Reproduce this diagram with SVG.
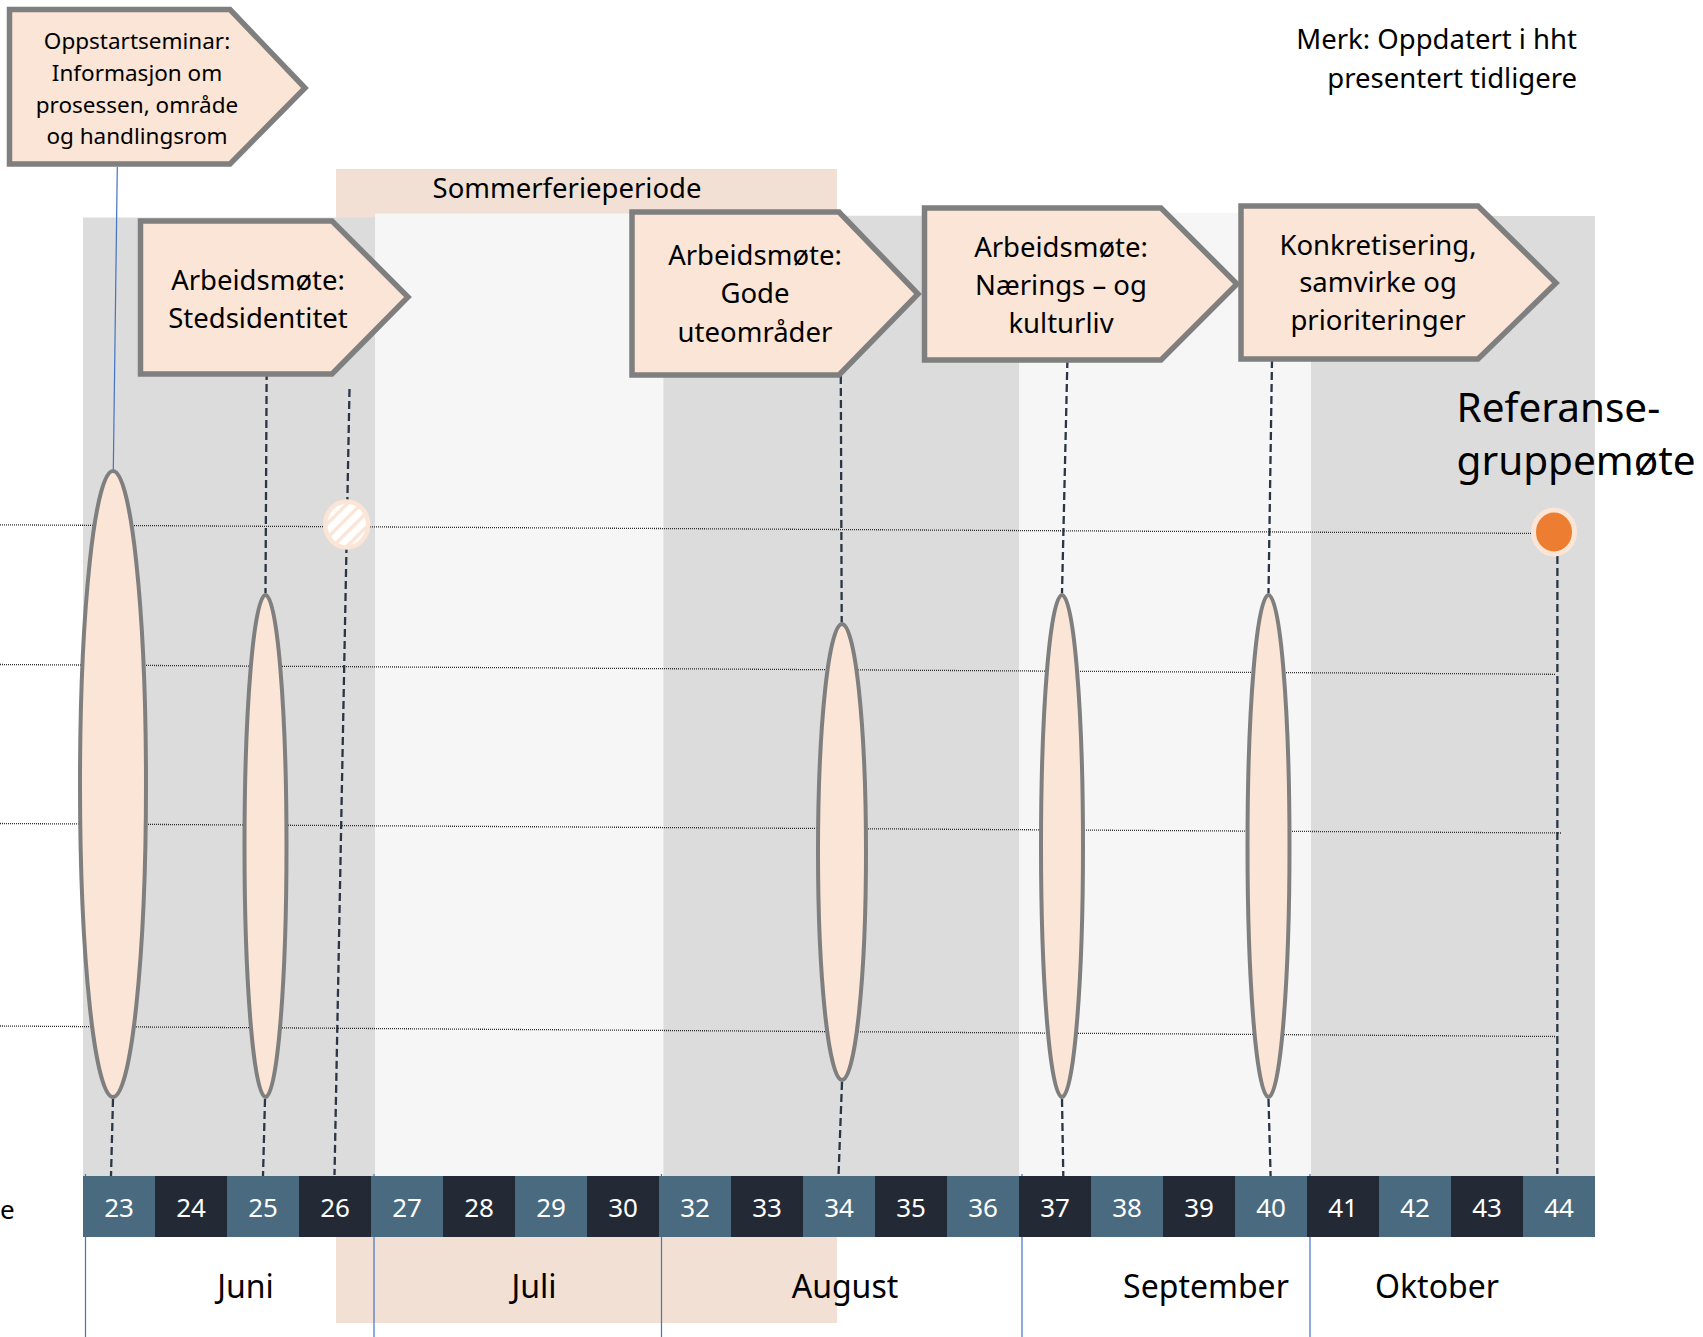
<svg xmlns="http://www.w3.org/2000/svg" width="1703" height="1337" viewBox="0 0 1703 1337">
<style>
  text { font-family: "Noto Sans", "Open Sans", sans-serif; fill: #000; }
  .box { fill: #fbe5d6; stroke: #7f7f7f; stroke-width: 5.5; }
  .bt { font-size: 27.5px; text-anchor: middle; }
  .oval { fill: #fbe5d6; stroke: #7f7f7f; stroke-width: 4; }
  .dot { fill: none; stroke: #2a2a2a; stroke-width: 1.3; stroke-dasharray: 1 1; }
  .dash { fill: none; stroke: #2a3547; stroke-width: 2.3; stroke-dasharray: 8 4; }
  .blue { fill: none; stroke: #4472c4; stroke-width: 1.2; }
  .grey { fill: #dcdcdc; }
  .light { fill: #f6f6f6; }
  .wl { fill: #4a6a80; }
  .wd { fill: #232a36; }
  .wk { font-size: 26px; fill: #ffffff; text-anchor: middle; }
  .mo { font-size: 32px; text-anchor: middle; }
</style>
<defs>
  <pattern id="hatch" patternUnits="userSpaceOnUse" width="10" height="10" patternTransform="rotate(45)">
    <rect width="10" height="10" fill="#ffffff"/>
    <rect x="0" y="0" width="3.5" height="10" fill="#fbe5d6"/>
  </pattern>
</defs>
<rect width="1703" height="1337" fill="#ffffff"/>

<g id="background">
  <rect id="sommerferie-bar" x="336" y="169" width="501" height="1154" fill="#f2e0d5"/>
  <rect class="grey" x="83" y="217.5" width="292" height="958.5"/>
  <rect class="light" x="375" y="213.5" width="288.6" height="962.5"/>
  <rect class="grey" x="663.6" y="215.7" width="355.4" height="960.3"/>
  <rect class="light" x="1019" y="213" width="292" height="963"/>
  <rect class="grey" x="1311" y="216" width="284" height="960"/>
</g>

<g id="connectors">
  <line class="blue" x1="85.5" y1="1174" x2="85.5" y2="1337"/>
  <line class="blue" x1="374" y1="1174" x2="374" y2="1337"/>
  <line class="blue" x1="661.5" y1="1174" x2="661.5" y2="1337"/>
  <line class="blue" x1="1022" y1="1174" x2="1022" y2="1337"/>
  <line class="blue" x1="1310" y1="1174" x2="1310" y2="1337"/>

  <line class="dot" x1="0" y1="524.8" x2="1545" y2="533.5"/>
  <line class="dot" x1="0" y1="664.5" x2="1556" y2="674.3"/>
  <line class="dot" x1="0" y1="823.5" x2="1561" y2="833"/>
  <line class="dot" x1="0" y1="1026" x2="1556" y2="1036.5"/>

  <line class="blue" x1="117.3" y1="167" x2="113.3" y2="470"/>

  <line class="dash" x1="113" y1="1099" x2="111" y2="1176"/>
  <line class="dash" x1="266.7" y1="360" x2="265.5" y2="593"/>
  <line class="dash" x1="265" y1="1099" x2="263" y2="1176"/>
  <line class="dash" x1="349.5" y1="389" x2="334.5" y2="1175"/>
  <line class="dash" x1="840.8" y1="376" x2="841.7" y2="622"/>
  <line class="dash" x1="842" y1="1082" x2="838.5" y2="1176"/>
  <line class="dash" x1="1067.4" y1="360" x2="1062" y2="593"/>
  <line class="dash" x1="1062" y1="1099" x2="1063.3" y2="1176"/>
  <line class="dash" x1="1272" y1="360" x2="1268.5" y2="593"/>
  <line class="dash" x1="1268.5" y1="1099" x2="1270.6" y2="1176"/>
  <line class="dash" x1="1557.4" y1="556" x2="1557.3" y2="1174"/>
</g>

<g id="sommerferie-label">
  <text x="567" y="198" font-size="27.5" text-anchor="middle">Sommerferieperiode</text>
</g>

<g id="note">
  <text x="1577" y="48.5" font-size="27.5" text-anchor="end">Merk: Oppdatert i hht</text>
  <text x="1577" y="87.5" font-size="27.5" text-anchor="end">presentert tidligere</text>
</g>

<g id="oppstartseminar">
  <polygon class="box" points="9.5,9.5 230,9.5 305,88 230,164 9.5,164"/>
  <text x="137" y="49" font-size="22.5" text-anchor="middle">Oppstartseminar:</text>
  <text x="137" y="81" font-size="22.5" text-anchor="middle">Informasjon om</text>
  <text x="137" y="112.7" font-size="22.5" text-anchor="middle">prosessen, område</text>
  <text x="137" y="144" font-size="22.5" text-anchor="middle">og handlingsrom</text>
</g>

<g id="stedsidentitet">
  <polygon class="box" points="140.5,221 332,221 408,297 332,374 140.5,374"/>
  <text class="bt" x="258" y="290">Arbeidsmøte:</text>
  <text class="bt" x="258" y="328">Stedsidentitet</text>
</g>

<g id="gode-uteomrader">
  <polygon class="box" points="632,212 839,212 918,294 839,375 632,375"/>
  <text class="bt" x="755" y="265">Arbeidsmøte:</text>
  <text class="bt" x="755" y="303">Gode</text>
  <text class="bt" x="755" y="342">uteområder</text>
</g>

<g id="narings-kulturliv">
  <polygon class="box" points="924.5,208 1161,208 1237,284 1161,360 924.5,360"/>
  <text class="bt" x="1061" y="257">Arbeidsmøte:</text>
  <text class="bt" x="1061" y="295">Nærings – og</text>
  <text class="bt" x="1061" y="333">kulturliv</text>
</g>

<g id="konkretisering">
  <polygon class="box" points="1241,206 1478,206 1556,283 1478,359 1241,359"/>
  <text class="bt" x="1378" y="255">Konkretisering,</text>
  <text class="bt" x="1378" y="292">samvirke og</text>
  <text class="bt" x="1378" y="330">prioriteringer</text>
</g>

<g id="meetings">
  <ellipse class="oval" cx="113" cy="784" rx="33" ry="313"/>
  <ellipse class="oval" cx="265.5" cy="846" rx="21" ry="251"/>
  <ellipse id="hatched-circle" cx="346.7" cy="524.5" rx="21.5" ry="23" fill="url(#hatch)" stroke="#fbe5d6" stroke-width="4.5"/>
  <ellipse class="oval" cx="842" cy="852" rx="24" ry="228"/>
  <ellipse class="oval" cx="1062" cy="846" rx="21" ry="251"/>
  <ellipse class="oval" cx="1268.5" cy="846" rx="21" ry="251"/>
  <ellipse id="referanse-dot" cx="1554" cy="532" rx="20.5" ry="22" fill="#ed7d31" stroke="#fbe5d6" stroke-width="5"/>
</g>

<g id="referanse-label">
  <text x="1456.5" y="422" font-size="40.5">Referanse-</text>
  <text x="1456.5" y="475" font-size="40.5">gruppemøte</text>
</g>

<g id="week-bar">
  <rect class="wl" x="83" y="1176" width="72" height="61"/>
  <rect class="wd" x="155" y="1176" width="72" height="61"/>
  <rect class="wl" x="227" y="1176" width="72" height="61"/>
  <rect class="wd" x="299" y="1176" width="72" height="61"/>
  <rect class="wl" x="371" y="1176" width="72" height="61"/>
  <rect class="wd" x="443" y="1176" width="72" height="61"/>
  <rect class="wl" x="515" y="1176" width="72" height="61"/>
  <rect class="wd" x="587" y="1176" width="72" height="61"/>
  <rect class="wl" x="659" y="1176" width="72" height="61"/>
  <rect class="wd" x="731" y="1176" width="72" height="61"/>
  <rect class="wl" x="803" y="1176" width="72" height="61"/>
  <rect class="wd" x="875" y="1176" width="72" height="61"/>
  <rect class="wl" x="947" y="1176" width="72" height="61"/>
  <rect class="wd" x="1019" y="1176" width="72" height="61"/>
  <rect class="wl" x="1091" y="1176" width="72" height="61"/>
  <rect class="wd" x="1163" y="1176" width="72" height="61"/>
  <rect class="wl" x="1235" y="1176" width="72" height="61"/>
  <rect class="wd" x="1307" y="1176" width="72" height="61"/>
  <rect class="wl" x="1379" y="1176" width="72" height="61"/>
  <rect class="wd" x="1451" y="1176" width="72" height="61"/>
  <rect class="wl" x="1523" y="1176" width="72" height="61"/>
  <text class="wk" x="119" y="1216.5">23</text>
  <text class="wk" x="191" y="1216.5">24</text>
  <text class="wk" x="263" y="1216.5">25</text>
  <text class="wk" x="335" y="1216.5">26</text>
  <text class="wk" x="407" y="1216.5">27</text>
  <text class="wk" x="479" y="1216.5">28</text>
  <text class="wk" x="551" y="1216.5">29</text>
  <text class="wk" x="623" y="1216.5">30</text>
  <text class="wk" x="695" y="1216.5">32</text>
  <text class="wk" x="767" y="1216.5">33</text>
  <text class="wk" x="839" y="1216.5">34</text>
  <text class="wk" x="911" y="1216.5">35</text>
  <text class="wk" x="983" y="1216.5">36</text>
  <text class="wk" x="1055" y="1216.5">37</text>
  <text class="wk" x="1127" y="1216.5">38</text>
  <text class="wk" x="1199" y="1216.5">39</text>
  <text class="wk" x="1271" y="1216.5">40</text>
  <text class="wk" x="1343" y="1216.5">41</text>
  <text class="wk" x="1415" y="1216.5">42</text>
  <text class="wk" x="1487" y="1216.5">43</text>
  <text class="wk" x="1559" y="1216.5">44</text>
  <text x="0" y="1219" font-size="26">e</text>
</g>

<g id="months">
  <text class="mo" x="245.5" y="1298">Juni</text>
  <text class="mo" x="534" y="1298">Juli</text>
  <text class="mo" x="845" y="1298">August</text>
  <text class="mo" x="1206" y="1298">September</text>
  <text class="mo" x="1437" y="1298">Oktober</text>
</g>
</svg>
